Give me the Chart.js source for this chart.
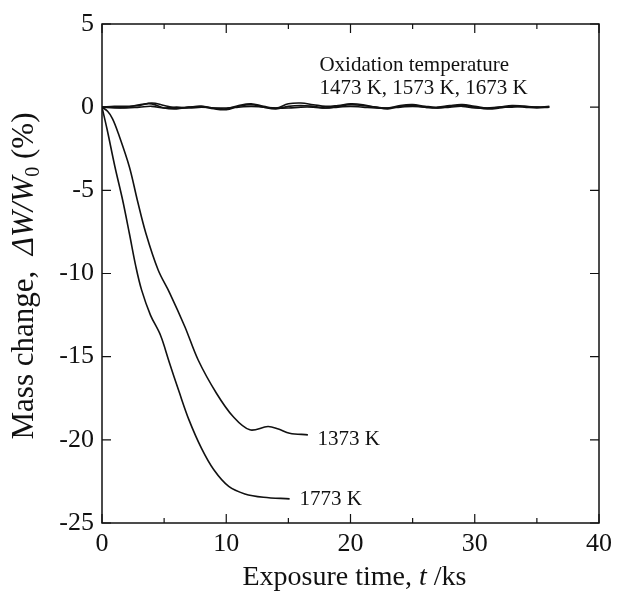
<!DOCTYPE html>
<html>
<head>
<meta charset="utf-8">
<script src="https://cdn.jsdelivr.net/npm/chart.js@4/dist/chart.umd.min.js"></script>
<style>
  html, body { margin: 0; padding: 0; background: #fff; }
  #wrap { width: 618px; height: 600px; }
</style>
</head>
<body>
<div id="wrap"><canvas id="chart" width="618" height="600"></canvas></div>
<script>
// near-zero runs (1473 K, 1573 K, 1673 K), sampled every 1 ks
const flatTimes = [0,1,2,3,4,5,6,7,8,9,10,11,12,13,14,15,16,17,18,19,20,21,22,23,24,25,26,27,28,29,30,31,32,33,34,35,36];
const mass1473 = [0,0.05,0.05,0.1,0.25,0.1,-0.05,0,0.05,-0.05,-0.1,0.1,0.2,0.05,-0.05,0.2,0.25,0.15,0.05,0.1,0.2,0.15,0,-0.05,0.1,0.15,0.05,0,0.1,0.15,0.05,-0.05,0,0.1,0.05,0,0.05];
const mass1573 = [0,-0.05,0,0.15,0.2,-0.05,-0.1,0,0.05,-0.1,-0.15,0.05,0.15,0,-0.1,0.05,0.1,0.05,-0.05,0.05,0.15,0.1,0,-0.1,0.05,0.1,0,-0.05,0.05,0.1,0,-0.1,-0.05,0.05,0,-0.05,0];
const mass1673 = [0,0,-0.05,0,0.05,-0.05,0,-0.05,0,-0.05,-0.05,0,0.05,0,-0.05,-0.05,0,0,-0.05,0,0.05,0,-0.05,-0.05,0,0.05,0,-0.05,0,0.05,-0.05,-0.05,0,0,0.05,0,0];

// 1373 K run
const times1373 = [0,0.45,0.85,1.31,2.2,2.84,3.53,4.52,5.46,6.67,7.74,9.21,10.55,11.9,13.36,14.2,15.1,16.57];
const mass1373 = [0,-0.25,-0.7,-1.57,-3.58,-5.58,-7.58,-9.79,-11.19,-13.2,-15.2,-17.2,-18.6,-19.4,-19.2,-19.35,-19.6,-19.7];

// 1773 K run
const times1773 = [0,0.4,1.04,1.66,2.2,2.73,3.19,3.9,4.7,5.4,6.2,7.0,8.0,9.0,10.2,11.5,13.0,15.1];
const mass1773 = [0,-1.3,-3.58,-5.58,-7.58,-9.6,-11.0,-12.5,-13.7,-15.3,-17.1,-18.8,-20.5,-21.8,-22.8,-23.25,-23.45,-23.55];

const xTicks = [0, 10, 20, 30, 40];
const yTicks = [5, 0, -5, -10, -15, -20, -25];

const SERIF = "'Liberation Serif', 'Times New Roman', serif";

function pts(xs, ys) {
  return xs.map((x, i) => ({ x: x, y: ys[i] }));
}

function line(data, tension) {
  return {
    data: data,
    borderColor: "#111",
    borderWidth: 1.6,
    pointRadius: 0,
    fill: false,
    tension: tension
  };
}

// frame, inward ticks, labels and axis titles
const decor = {
  id: "decor",
  afterDraw(chart) {
    const ctx = chart.ctx;
    const a = chart.chartArea;
    const xs = chart.scales.x, ys = chart.scales.y;
    ctx.save();
    ctx.strokeStyle = "#111";
    ctx.lineWidth = 1.5;
    ctx.strokeRect(a.left, a.top, a.right - a.left, a.bottom - a.top);

    ctx.lineWidth = 1.2;
    ctx.beginPath();
    for (let v = 0; v <= 40; v += 5) {
      const px = xs.getPixelForValue(v);
      const len = v % 10 === 0 ? 9 : 5;
      ctx.moveTo(px, a.bottom); ctx.lineTo(px, a.bottom - len);
      ctx.moveTo(px, a.top); ctx.lineTo(px, a.top + len);
    }
    yTicks.forEach(v => {
      const py = ys.getPixelForValue(v);
      ctx.moveTo(a.left, py); ctx.lineTo(a.left + 9, py);
      ctx.moveTo(a.right, py); ctx.lineTo(a.right - 9, py);
    });
    ctx.stroke();

    ctx.fillStyle = "#111";
    ctx.textBaseline = "middle";
    ctx.textAlign = "left";
    ctx.font = "21px " + SERIF;
    ctx.fillText("Oxidation temperature", xs.getPixelForValue(17.5), ys.getPixelForValue(2.5));
    ctx.fillText("1473 K, 1573 K, 1673 K", xs.getPixelForValue(17.5), ys.getPixelForValue(1.13));
    ctx.fillText("1373 K", xs.getPixelForValue(17.35), ys.getPixelForValue(-19.95));
    ctx.fillText("1773 K", xs.getPixelForValue(15.9), ys.getPixelForValue(-23.6));

    // x title
    const parts = [
      ["Exposure time, ", "28px " + SERIF],
      ["t", "italic 28px " + SERIF],
      [" /ks", "28px " + SERIF]
    ];
    let w = 0;
    parts.forEach(p => { ctx.font = p[1]; w += ctx.measureText(p[0]).width; });
    let x = (a.left + a.right) / 2 + 4 - w / 2;
    ctx.textBaseline = "alphabetic";
    parts.forEach(p => { ctx.font = p[1]; ctx.fillText(p[0], x, 585); x += ctx.measureText(p[0]).width; });

    // y title, rotated
    const yparts = [
      ["Mass change,  ", "31px " + SERIF, 0],
      ["\u0394W/W", "italic 31px " + SERIF, 0],
      ["0", "20px " + SERIF, 6],
      [" (%)", "31px " + SERIF, 0]
    ];
    w = 0;
    yparts.forEach(p => { ctx.font = p[1]; w += ctx.measureText(p[0]).width; });
    ctx.translate(33, 276);
    ctx.rotate(-Math.PI / 2);
    x = -w / 2;
    yparts.forEach(p => { ctx.font = p[1]; ctx.fillText(p[0], x, p[2]); x += ctx.measureText(p[0]).width; });
    ctx.restore();
  }
};

new Chart(document.getElementById("chart"), {
  type: "line",
  data: {
    datasets: [
      line(pts(flatTimes, mass1473), 0.4),
      line(pts(flatTimes, mass1573), 0.4),
      line(pts(flatTimes, mass1673), 0.4),
      line(pts(times1373, mass1373), 0.35),
      line(pts(times1773, mass1773), 0.35)
    ]
  },
  options: {
    responsive: false,
    animation: false,
    layout: { padding: { top: 24, right: 18, left: 0, bottom: 0 } },
    plugins: { legend: { display: false }, tooltip: { enabled: false } },
    scales: {
      x: {
        type: "linear",
        min: 0, max: 40,
        afterBuildTicks: s => { s.ticks = xTicks.map(v => ({ value: v })); },
        afterFit: s => { s.height = 77; },
        grid: { display: false, drawTicks: false },
        border: { display: false },
        ticks: { color: "#111", padding: 6, maxRotation: 0, font: { family: SERIF, size: 26 } }
      },
      y: {
        type: "linear",
        min: -25, max: 5,
        afterBuildTicks: s => { s.ticks = yTicks.map(v => ({ value: v })); },
        afterFit: s => { s.width = 102; },
        grid: { display: false, drawTicks: false },
        border: { display: false },
        ticks: { color: "#111", padding: 8, font: { family: SERIF, size: 26 } }
      }
    }
  },
  plugins: [decor]
});
</script>
</body>
</html>
